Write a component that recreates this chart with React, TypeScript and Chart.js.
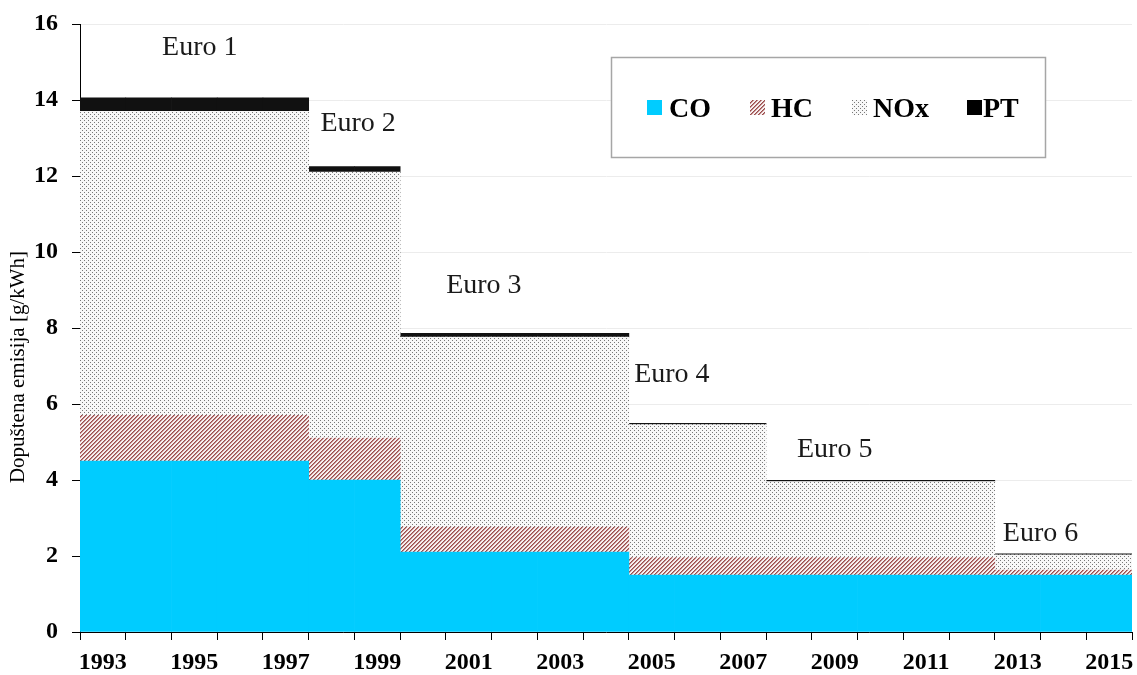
import React, { useEffect, useRef } from 'react';
import { Chart, registerables } from 'chart.js';

Chart.register(...registerables);

const years = [
  '1993', '1994', '1995', '1996', '1997', '1998', '1999', '2000', '2001', '2002', '2003', '2004',
  '2005', '2006', '2007', '2008', '2009', '2010', '2011', '2012', '2013', '2014', '2015',
];
// Euro 1 (1993-1997), Euro 2 (1998-1999), Euro 3 (2000-2004), Euro 4 (2005-2007), Euro 5 (2008-2012), Euro 6 (2013-2015)
const coValues = [4.5, 4.5, 4.5, 4.5, 4.5, 4.0, 4.0, 2.1, 2.1, 2.1, 2.1, 2.1, 1.5, 1.5, 1.5, 1.5, 1.5, 1.5, 1.5, 1.5, 1.5, 1.5, 1.5];
const hcValues = [1.2, 1.2, 1.2, 1.2, 1.2, 1.1, 1.1, 0.66, 0.66, 0.66, 0.66, 0.66, 0.46, 0.46, 0.46, 0.46, 0.46, 0.46, 0.46, 0.46, 0.13, 0.13, 0.13];
const noxValues = [8.0, 8.0, 8.0, 8.0, 8.0, 7.0, 7.0, 5.0, 5.0, 5.0, 5.0, 5.0, 3.5, 3.5, 3.5, 2.0, 2.0, 2.0, 2.0, 2.0, 0.4, 0.4, 0.4];
const ptValues = [0.36, 0.36, 0.36, 0.36, 0.36, 0.15, 0.15, 0.1, 0.1, 0.1, 0.1, 0.1, 0.03, 0.03, 0.03, 0.03, 0.03, 0.03, 0.03, 0.03, 0.03, 0.03, 0.03];

const seriesNames = ['CO', 'HC', 'NOx', 'PT'];
const stageLabels = ['Euro 1', 'Euro 2', 'Euro 3', 'Euro 4', 'Euro 5', 'Euro 6'];
const stageLabelYears = [1995.12, 1998.58, 2001.33, 2005.44, 2009.0, 2013.5];
const stageLabelValues = [15.18, 13.18, 8.93, 6.58, 4.61, 2.4];
const yTitle = 'Dopuštena emisija [g/kWh]';

const SERIF = "'Liberation Serif', 'Times New Roman', serif";

function makeHatch(): CanvasPattern | string {
  const c = document.createElement('canvas');
  c.width = 4;
  c.height = 4;
  const g = c.getContext('2d');
  if (!g) return '#a05a5a';
  for (let x = 0; x < 4; x++) {
    for (let y = 0; y < 4; y++) {
      const k = (x + y) % 4;
      g.fillStyle = k === 0 ? '#9a4c4c' : k === 1 ? '#c08a8a' : '#f7efef';
      g.fillRect(x, y, 1, 1);
    }
  }
  return g.createPattern(c, 'repeat') || '#a05a5a';
}

function makeDots(): CanvasPattern | string {
  const c = document.createElement('canvas');
  c.width = 4;
  c.height = 4;
  const g = c.getContext('2d');
  if (!g) return '#dddddd';
  g.fillStyle = '#f8f8f8';
  g.fillRect(0, 0, 4, 4);
  g.fillStyle = '#787878';
  g.fillRect(0, 0, 1, 1);
  g.fillRect(2, 2, 1, 1);
  return g.createPattern(c, 'repeat') || '#dddddd';
}

export default function App() {
  const ref = useRef<HTMLCanvasElement | null>(null);

  useEffect(() => {
    const canvas = ref.current;
    if (!canvas) return;
    const hatch = makeHatch();
    const dots = makeDots();
    const fills: any[] = ['#00CCFF', hatch, dots, '#000000'];

    const stagePlugin = {
      id: 'stageLabels',
      afterDatasetsDraw(chart: any) {
        const ctx = chart.ctx;
        const xs = chart.scales.x;
        const ys = chart.scales.y;
        ctx.save();
        ctx.font = `28px ${SERIF}`;
        ctx.fillStyle = '#1a1a1a';
        ctx.textAlign = 'center';
        ctx.textBaseline = 'alphabetic';
        stageLabels.forEach((t, i) => {
          const px = xs.getPixelForValue(stageLabelYears[i] - 1993);
          const py = ys.getPixelForValue(stageLabelValues[i]);
          ctx.fillText(t, px, py);
        });
        // y-axis title
        ctx.translate(18, 367);
        ctx.rotate(-Math.PI / 2);
        ctx.font = `21px ${SERIF}`;
        ctx.fillStyle = '#000';
        ctx.textBaseline = 'middle';
        ctx.fillText(yTitle, 0, 0);
        ctx.restore();
      },
    };

    const legendPlugin = {
      id: 'boxLegend',
      afterDraw(chart: any) {
        const ctx = chart.ctx;
        ctx.save();
        ctx.fillStyle = '#ffffff';
        ctx.fillRect(611, 57, 434, 100);
        ctx.strokeStyle = '#a6a6a6';
        ctx.lineWidth = 1.5;
        ctx.strokeRect(611.5, 57.5, 434, 100);
        const sq = [647, 750, 852, 967];
        const tx = [669, 771, 873, 983];
        ctx.font = `bold 28px ${SERIF}`;
        ctx.textAlign = 'left';
        ctx.textBaseline = 'alphabetic';
        seriesNames.forEach((n, i) => {
          ctx.fillStyle = fills[i];
          ctx.fillRect(sq[i], 100, 15, 15);
          ctx.fillStyle = '#000';
          ctx.fillText(n, tx[i], 117);
        });
        ctx.restore();
      },
    };

    const chart = new Chart(canvas, {
      type: 'bar',
      data: {
        labels: years,
        datasets: [
          { label: seriesNames[0], data: coValues, backgroundColor: fills[0] },
          { label: seriesNames[1], data: hcValues, backgroundColor: fills[1] },
          { label: seriesNames[2], data: noxValues, backgroundColor: fills[2] },
          { label: seriesNames[3], data: ptValues, backgroundColor: '#111111' },
        ],
      },
      options: {
        responsive: false,
        animation: false,
        events: [],
        layout: { padding: { top: 24, right: 5, left: 0, bottom: 0 } },
        datasets: {
          bar: { barPercentage: 1, categoryPercentage: 1, borderWidth: 0 },
        },
        plugins: { legend: { display: false }, tooltip: { enabled: false } },
        scales: {
          x: {
            stacked: true,
            offset: true,
            afterFit: (s: any) => { s.height = 43; s.paddingRight = 0; s.paddingLeft = 0; },
            grid: { display: true, offset: true, drawOnChartArea: false, drawTicks: true, tickLength: 8, tickColor: '#000', color: '#000' },
            border: { display: true, color: '#000', width: 1 },
            ticks: {
              autoSkip: false,
              maxRotation: 0,
              padding: 8,
              color: '#000',
              font: { family: SERIF, size: 24, weight: 'bold' },
              callback: (_v: any, i: number) => (i % 2 === 0 ? years[i] : ''),
            },
          },
          y: {
            stacked: true,
            min: 0,
            max: 16,
            afterFit: (s: any) => { s.width = 80; s.paddingTop = 0; s.paddingBottom = 0; },
            grid: { color: '#ececec', tickColor: '#000', tickLength: 8, drawTicks: true },
            border: { display: true, color: '#000', width: 1 },
            ticks: {
              stepSize: 2,
              padding: 14,
              color: '#000',
              font: { family: SERIF, size: 24, weight: 'bold' },
            },
          },
        },
      },
      plugins: [stagePlugin, legendPlugin],
    } as any);
    return () => chart.destroy();
  }, []);

  return (
    <div style={{ position: 'fixed', left: 0, top: 0, width: 1137, height: 675, background: '#fff' }}>
      <canvas ref={ref} width={1137} height={675} style={{ display: 'block' }} />
    </div>
  );
}
